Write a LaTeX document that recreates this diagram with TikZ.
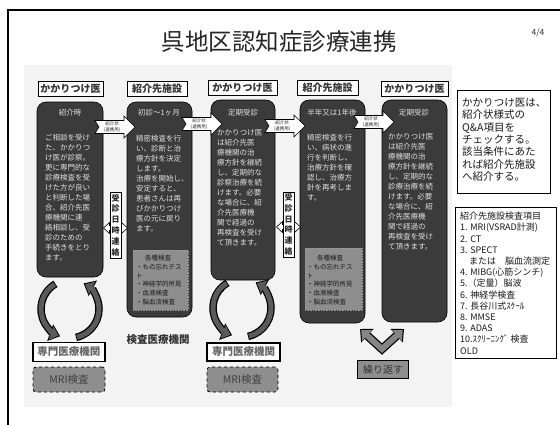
\documentclass[tikz,border=0pt]{standalone}
\usepackage{fontspec}
\setmainfont{Noto Sans CJK JP}
\usetikzlibrary{arrows.meta}
\definecolor{panelfill}{HTML}{3B3B3B}
\definecolor{paneltext}{HTML}{E0E0E0}
\definecolor{innerfill}{HTML}{8E8E8E}
\definecolor{bggray}{HTML}{F3F3F3}
\definecolor{arcgray}{HTML}{5A5A5A}
\definecolor{vgray}{HTML}{858585}
\tikzset{
 panel/.style={fill=panelfill, draw=black, line width=0.6pt, rounded corners=9pt, inner sep=0},
 ptitle/.style={text=paneltext, font=\fontsize{7.5}{9}\selectfont, inner sep=0},
 pbody/.style={text=paneltext, font=\fontsize{7.5}{10}\selectfont, align=left, inner sep=0, anchor=north west},
 header/.style={draw=black, line width=0.9pt, fill=white, font=\bfseries\fontsize{10}{12}\selectfont, text=black!80, minimum height=15pt, inner sep=0},
 innerbox/.style={fill=innerfill, draw=black!40, densely dotted, line width=0.6pt, inner sep=0},
 itext/.style={text=black!90, font=\fontsize{6.5}{8.6}\selectfont, inner sep=0},
 vbox/.style={draw=black, line width=0.7pt, fill=white, inner sep=0, minimum width=11pt, align=center, font=\bfseries\fontsize{8}{10.8}\selectfont, text=black!85},
 senmon/.style={draw=black, line width=1.1pt, fill=white, inner sep=0, font=\bfseries\fontsize{10.5}{12}\selectfont, text=black!60},
 mri/.style={draw=black, dashed, line width=0.8pt, fill=innerfill, rounded corners=3pt, inner sep=0, font=\fontsize{10.5}{12}\selectfont, text=black!75},
 arcout/.style={line width=7.5pt, black, -{Triangle[width=17pt,length=10.5pt]}},
 arcin/.style={line width=5pt, arcgray, -{Triangle[width=13.5pt,length=8pt]}, shorten >=1.6pt, shorten <=0.9pt},
 vout/.style={line width=8.5pt, black, line join=miter, {Triangle[width=18pt,length=10pt]}-{Triangle[width=18pt,length=10pt]}},
 vin/.style={line width=6pt, vgray, line join=miter, {Triangle[width=14pt,length=8pt]}-{Triangle[width=14pt,length=8pt]}, shorten >=1.6pt, shorten <=1.6pt},
 refarrow/.pic={
  \draw[black, line width=0.6pt, fill=white] (0,-6.5) -- (29,-6.5) -- (29,-11) -- (40,0) -- (29,11) -- (29,6.5) -- (0,6.5) -- (4,0) -- cycle;
  \node[font=\fontsize{4.5}{5.2}\selectfont, align=center, inner sep=0, text=black!85] at (17,0) {紹介状\\(連携用)};
 },
 dblarrow/.pic={
  \draw[fill=white, line width=0.6pt] (-12,0) -- (-6,-5.5) -- (-6,-2.5) -- (6,-2.5) -- (6,-5.5) -- (12,0) -- (6,5.5) -- (6,2.5) -- (-6,2.5) -- (-6,5.5) -- cycle;
 }
}
\begin{document}
\begin{tikzpicture}[x=1pt,y=-1pt]
\useasboundingbox (0,0) rectangle (560,424);
\fill[white] (0,0) rectangle (560,424);
% slide frame
\draw[black, line width=1.2pt] (8,10) rectangle (566,430);
% faint background
\fill[bggray] (24,65) rectangle (452,407);
% title
\node[font=\fontsize{23.5}{26}\selectfont, text=black!85, inner sep=0] (title) at (279,42) {呉地区認知症診療連携};
\node[font=\fontsize{8.5}{10}\selectfont, text=black!80, inner sep=0] (page) at (538,33) {4/4};

% headers
\node[header, minimum width=65pt] (h1) at (70.5,88.5) {かかりつけ医};
\node[header, minimum width=60pt] (h2) at (157,88.5) {紹介先施設};
\node[header, minimum width=69pt] (h3) at (242.5,87.5) {かかりつけ医};
\node[header, minimum width=61pt] (h4) at (327.5,87.5) {紹介先施設};
\node[header, minimum width=67pt] (h5) at (414.5,89) {かかりつけ医};

% panels
\node[panel, minimum width=66pt, minimum height=175pt] (p1) at (70,189.5) {};
\node[panel, minimum width=65pt, minimum height=215pt] (p2) at (159.5,209.5) {};
\node[panel, minimum width=64pt, minimum height=180pt] (p3) at (243,190) {};
\node[panel, minimum width=65pt, minimum height=223pt] (p4) at (332.5,211.5) {};
\node[panel, minimum width=65pt, minimum height=222pt] (p5) at (414.5,211) {};

% panel titles
\node[ptitle] (t1) at (70,113) {紹介時};
\node[ptitle] (t2) at (159,113) {初診～1ヶ月};
\node[ptitle] (t3) at (243,113) {定期受診};
\node[ptitle] (t4) at (332,113) {半年又は1年後};
\node[ptitle] (t5) at (414,113) {定期受診};

% panel bodies
\node[pbody] (b1) at (45,133.5) {ご相談を受け\\た、かかりつ\\け医が診察。\\更に専門的な\\診療検査を受\\けた方が良い\\と判断した場\\合、紹介先医\\療機関に連\\絡相談し、受\\診のための\\手続きをとり\\ます。};
\node[pbody] (b2) at (136,134.5) {精密検査を行\\い、診断と治\\療方針を決定\\します。\\治療を開始し、\\安定すると、\\患者さんは再\\びかかりつけ\\医の元に戻り\\ます。};
\node[pbody] (b3) at (217,129.5) {かかりつけ医\\は紹介先医\\療機関の治\\療方針を継続\\し、定期的な\\診察治療を続\\けます。必要\\な場合に、紹\\介先医療機\\関で経過の\\再検査を受け\\て頂きます。};
\node[pbody] (b4) at (307,133.5) {精密検査を行\\い、病状の進\\行を判断し、\\治療方針を確\\認し、治療方\\針を再考しま\\す。};
\node[pbody] (b5) at (388,133.5) {かかりつけ医\\は紹介先医\\療機関の治\\療方針を継続\\し、定期的な\\診療治療を続\\けます。必要\\な場合に、紹\\介先医療機\\関で経過の\\再検査を受け\\て頂きます。};

% inner boxes
\node[innerbox, minimum width=55pt, minimum height=60pt] (ib2) at (160.5,280) {};
\node[itext] (ib2t) at (158,258) {各種検査};
\node[itext, align=left, anchor=north west] (ib2b) at (136,264) {・もの忘れテス\\ト\\・神経学的所見\\・血液検査\\・脳血流検査};
\node[innerbox, minimum width=57pt, minimum height=62pt] (ib4) at (333.5,279) {};
\node[itext] (ib4t) at (330,258) {各種検査};
\node[itext, align=left, anchor=north west] (ib4b) at (307,264) {・もの忘れテス\\ト\\・神経学的所見\\・血液検査\\・脳血流検査};

% referral arrows
\pic at (95,127) {refarrow};
\pic at (182,124) {refarrow};
\pic at (265,126) {refarrow};
\pic at (354,122) {refarrow};

% appointment contact
\pic at (115.5,228) {dblarrow};
\node[vbox, minimum height=66pt] (vb1) at (115.5,225) {受\\診\\日\\時\\連\\絡};
\pic at (288.5,227) {dblarrow};
\node[vbox, minimum height=65pt] (vb2) at (288.5,224.5) {受\\診\\日\\時\\連\\絡};

% circular arrows
\coordinate (c1) at (70,309);
\coordinate (c2) at (242,308);
\draw[arcout] (c1) ++(-120:29) arc (-120:-250:29);
\draw[arcin] (c1) ++(-120:29) arc (-120:-250:29);
\draw[arcout] (c1) ++(78:29) arc (78:-62:29);
\draw[arcin] (c1) ++(78:29) arc (78:-62:29);
\draw[arcout] (c2) ++(-120:29) arc (-120:-250:29);
\draw[arcin] (c2) ++(-120:29) arc (-120:-250:29);
\draw[arcout] (c2) ++(78:29) arc (78:-62:29);
\draw[arcin] (c2) ++(78:29) arc (78:-62:29);

% bottom boxes
\node[senmon, minimum width=72pt, minimum height=19pt] (s1) at (69,352) {専門医療機関};
\node[mri, minimum width=72pt, minimum height=25pt] (m1) at (69,379.5) {MRI検査};
\node[senmon, minimum width=73pt, minimum height=18pt] (s2) at (243.5,352) {専門医療機関};
\node[mri, minimum width=71pt, minimum height=25pt] (m2) at (242.5,379.5) {MRI検査};
\node[font=\bfseries\fontsize{10.5}{12}\selectfont, text=black!80, inner sep=0] (kensa) at (158,340) {検査医療機関};

% repeat
\coordinate (va) at (360,329);
\coordinate (vm) at (382,349);
\coordinate (vb) at (404,329);
\draw[vout] (va) -- (vm) -- (vb);
\draw[vin] (va) -- (vm) -- (vb);
\node[draw=black, line width=0.8pt, fill=innerfill, minimum width=51pt, minimum height=18pt, inner sep=0, font=\fontsize{10}{12}\selectfont, text=black!80] (rep) at (383,369.5) {繰り返す};

% right boxes
\node[draw=black, line width=0.6pt, fill=white, minimum width=93pt, minimum height=103pt, inner sep=0, anchor=north west] (rb1) at (457,90) {};
\node[font=\fontsize{10.5}{12.3}\selectfont, align=left, inner sep=0, anchor=north west, text=black!90] (rb1t) at (462,98) {かかりつけ医は、\\紹介状様式の\\Q\&A項目を\\チェックする。\\該当条件にあた\\れば紹介先施設\\へ紹介する。};
\node[draw=black, line width=0.6pt, fill=white, minimum width=101pt, minimum height=151pt, inner sep=0, anchor=north west] (rb2) at (455,207) {};
\node[font=\fontsize{9}{11.2}\selectfont, align=left, inner sep=0, anchor=north west, text=black!90] (rb2t) at (460,212) {紹介先施設検査項目\\1. MRI(VSRAD計測)\\2. CT\\3. SPECT\\　または　脳血流測定\\4. MIBG(心筋シンチ)\\5.（定量）脳波\\6. 神経学検査\\7. 長谷川式ｽｹｰﾙ\\8. MMSE\\9. ADAS\\10.ｽｸﾘｰﾆﾝｸﾞ 検査\\OLD};
\end{tikzpicture}
\end{document}
